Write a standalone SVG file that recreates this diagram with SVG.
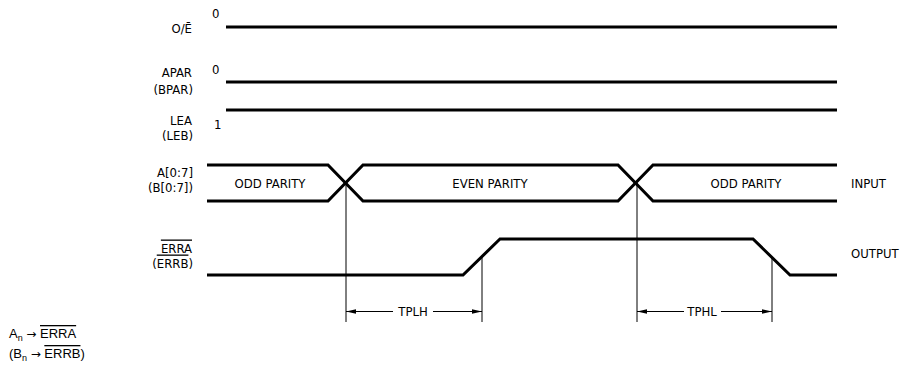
<svg xmlns="http://www.w3.org/2000/svg" width="905" height="375" viewBox="0 0 905 375">
<defs>
<style>
.sig{fill:none;stroke:#000;stroke-width:3;stroke-linejoin:miter;stroke-linecap:butt}
.thin{fill:none;stroke:#000;stroke-width:1}
.lbl{font-family:"DejaVu Sans Condensed","Liberation Sans Narrow","Liberation Sans",sans-serif;font-stretch:condensed;font-size:13px;fill:#000}
.r{text-anchor:end}
.m{text-anchor:middle}
.ft{font-family:"Liberation Sans",Arial,sans-serif;font-size:13px;fill:#000}
.arw{font-family:"DejaVu Sans",sans-serif;font-size:12px}
.ol{text-decoration:overline}
</style>
<marker id="ah" viewBox="0 0 10 6" refX="10" refY="3" markerWidth="10" markerHeight="6" markerUnits="userSpaceOnUse" orient="auto">
<path d="M0,0.8 L10,3 L0,5.2 Z" fill="#000"/>
</marker>
</defs>
<rect width="905" height="375" fill="#fff"/>

<g id="sig-oe">
<text class="lbl r" x="192" y="33">O/Ē</text>
<text class="lbl" x="212" y="18">0</text>
<line class="sig" x1="226" y1="27" x2="837" y2="27"/>
</g>

<g id="sig-apar">
<text class="lbl r" x="192" y="77">APAR</text>
<text class="lbl r" x="193" y="94">(BPAR)</text>
<text class="lbl" x="212" y="74">0</text>
<line class="sig" x1="226" y1="82" x2="837" y2="82"/>
</g>

<g id="sig-lea">
<text class="lbl r" x="192" y="125">LEA</text>
<text class="lbl r" x="193" y="140">(LEB)</text>
<text class="lbl" x="214" y="129">1</text>
<line class="sig" x1="226" y1="110" x2="837" y2="110"/>
</g>

<g id="sig-a">
<text class="lbl r" x="193" y="176.5">A[0:7]</text>
<text class="lbl r" x="193" y="191.5">(B[0:7])</text>
<path class="sig" d="M207,165 L328,165 L363,201 L618,201 L653,165 L837,165"/>
<path class="sig" d="M207,201 L328,201 L363,165 L618,165 L653,201 L837,201"/>
<text class="lbl m" x="270" y="188">ODD PARITY</text>
<text class="lbl m" x="490" y="188">EVEN PARITY</text>
<text class="lbl m" x="746" y="188">ODD PARITY</text>
<text class="lbl" x="851" y="188">INPUT</text>
</g>

<g id="sig-erra">
<text class="lbl r" x="192" y="252.5"><tspan class="ol">ERRA</tspan></text>
<text class="lbl r" x="193" y="267.5">(<tspan class="ol">ERRB</tspan>)</text>
<path class="sig" d="M207,275 L463,275 L500,239 L753,239 L790,275 L837,275"/>
<text class="lbl" x="851" y="258">OUTPUT</text>
</g>

<g id="connectors">
<line class="thin" x1="346" y1="183" x2="346" y2="322"/>
<line class="thin" x1="482" y1="257" x2="482" y2="322"/>
<line class="thin" x1="637" y1="183" x2="637" y2="322"/>
<line class="thin" x1="772" y1="257" x2="772" y2="322"/>
<line class="thin" x1="393" y1="311.5" x2="346" y2="311.5" marker-end="url(#ah)"/>
<line class="thin" x1="433" y1="311.5" x2="482" y2="311.5" marker-end="url(#ah)"/>
<line class="thin" x1="684" y1="311.5" x2="637" y2="311.5" marker-end="url(#ah)"/>
<line class="thin" x1="721" y1="311.5" x2="772" y2="311.5" marker-end="url(#ah)"/>
<text class="lbl m" x="413" y="316">TPLH</text>
<text class="lbl m" x="702" y="316">TPHL</text>
</g>

<g id="legend">
<text class="ft" x="9" y="338">A<tspan font-size="9" dy="3">n</tspan><tspan dy="-3"> </tspan><tspan class="arw">→</tspan> <tspan class="ol">ERRA</tspan></text>
<text class="ft" x="9" y="358">(B<tspan font-size="9" dy="3">n</tspan><tspan dy="-3"> </tspan><tspan class="arw">→</tspan> <tspan class="ol">ERRB</tspan>)</text>
</g>
</svg>
